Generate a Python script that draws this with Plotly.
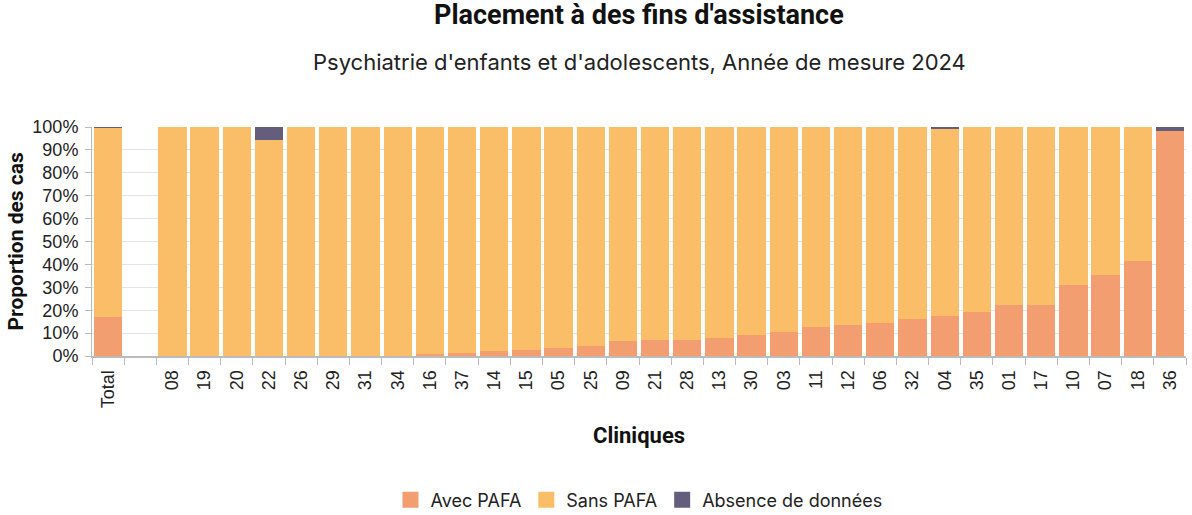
import plotly.graph_objects as go

# Clinic labels (the blank entry separates the overall total from the clinics)
cliniques = ["Total", " ", "08", "19", "20", "22", "26", "29", "31", "34", "16", "37",
             "14", "15", "05", "25", "09", "21", "28", "13", "30", "03", "11", "12",
             "06", "32", "04", "35", "01", "17", "10", "07", "18", "36"]

# Share of cases (%) per clinic
avec_pafa = [17.2, None, 0, 0, 0, 0, 0, 0, 0, 0, 0.7, 1.2,
             2.2, 2.8, 3.5, 4.5, 6.5, 6.8, 6.8, 8.0, 9.2, 10.3, 12.8, 13.5,
             14.5, 16.3, 17.6, 19.1, 22.1, 22.4, 30.9, 35.5, 41.6, 98.4]
absence = [0.4, None, 0, 0, 0, 5.5, 0, 0, 0, 0, 0, 0,
           0, 0, 0, 0, 0, 0, 0, 0, 0, 0, 0, 0,
           0, 0, 0.6, 0, 0, 0, 0, 0, 0, 1.6]
sans_pafa = [None if a is None else round(100 - a - b, 1) for a, b in zip(avec_pafa, absence)]

y_ticks = list(range(0, 101, 10))
y_ticktext = [f"{v}%" for v in y_ticks]

series = [("Avec PAFA", avec_pafa, "#F39E71"),
          ("Sans PAFA", sans_pafa, "#FABE69"),
          ("Absence de données", absence, "#655D7C")]

W, H = 1192, 515
M_L, M_R, M_T, M_B = 92, 6, 127, 159

fig = go.Figure()
for name, values, color in series:
    fig.add_trace(go.Bar(name=name, x=cliniques, y=values, marker_color=color,
                         marker_line_width=0, showlegend=False, legendgroup=name))
# Legend entries drawn as larger square swatches
for name, values, color in series:
    fig.add_trace(go.Scatter(name=name, x=[None], y=[None], mode="markers",
                             marker=dict(symbol="square", size=18, color=color),
                             legendgroup=name, showlegend=True))

plot_h = H - M_T - M_B
def ypix(p):
    """Paper y coordinate for a pixel row measured from the top of the page."""
    return (H - M_B - p) / plot_h

fig.update_layout(
    width=W, height=H,
    barmode="stack", bargap=0.12,
    plot_bgcolor="white", paper_bgcolor="white",
    margin=dict(l=M_L, r=M_R, t=M_T, b=M_B, autoexpand=False),
    font=dict(family="Liberation Sans, Arial", size=16, color="#000"),
    showlegend=True,
    legend=dict(orientation="h", x=0.5, xanchor="center", y=ypix(500), yanchor="middle",
                font=dict(family="Inter, Noto Sans", size=18, color="#222"),
                itemwidth=30, traceorder="normal"),
    annotations=[
        dict(text="<b>Placement à des fins d'assistance</b>", x=0.5, xref="paper",
             y=ypix(15), yref="paper", showarrow=False, yanchor="middle",
             font=dict(family="Roboto, Liberation Sans", size=27, color="#111")),
        dict(text="Psychiatrie d'enfants et d'adolescents, Année de mesure 2024", x=0.5, xref="paper",
             y=ypix(62), yref="paper", showarrow=False, yanchor="middle",
             font=dict(family="Inter, Noto Sans", size=22, color="#222")),
        dict(text="<b>Cliniques</b>", x=0.5, xref="paper", y=ypix(435), yref="paper",
             showarrow=False, yanchor="middle",
             font=dict(family="Roboto, Liberation Sans", size=22, color="#111")),
        dict(text="<b>Proportion des cas</b>", x=(15 - M_L) / (W - M_L - M_R), xref="paper",
             xanchor="center", y=0.5, yref="paper", yanchor="middle",
             showarrow=False, textangle=-90,
             font=dict(family="Roboto, Liberation Sans", size=21, color="#111")),
    ],
)

fig.update_xaxes(
    type="category", tickangle=-90, tickson="boundaries", automargin=False,
    ticks="outside", ticklen=7, tickcolor="#bbb", ticklabelstandoff=5,
    showline=True, linecolor="#bbb", linewidth=2,
    tickfont=dict(family="Liberation Sans, Arial", size=18, color="#222"),
)
fig.update_yaxes(
    range=[0, 100], tickvals=y_ticks, ticktext=y_ticktext, automargin=False,
    ticks="outside", ticklen=6, tickcolor="#bbb", ticklabelstandoff=3,
    showline=True, linecolor="#bbb", linewidth=1,
    showgrid=True, gridcolor="#e3e3e3", zeroline=False,
    tickfont=dict(family="Liberation Sans, Arial", size=18, color="#222"),
)

fig.write_html("out.html")
